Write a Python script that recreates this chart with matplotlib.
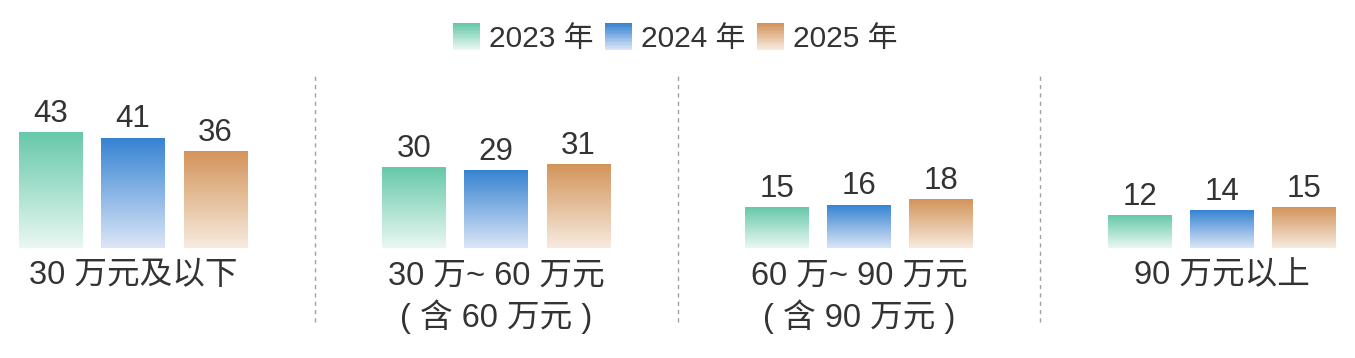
import numpy as np
import matplotlib.pyplot as plt
from matplotlib.patches import Rectangle
from matplotlib.legend_handler import HandlerBase
from matplotlib.colors import LinearSegmentedColormap

plt.rcParams['font.family'] = ['Liberation Sans', 'Noto Sans CJK SC']

categories = ["30 万元及以下", "30 万~ 60 万元\n( 含 60 万元 )",
              "60 万~ 90 万元\n( 含 90 万元 )", "90 万元以上"]
years = ["2023 年", "2024 年", "2025 年"]
v2023 = [43, 30, 15, 12]
v2024 = [41, 29, 16, 14]
v2025 = [36, 31, 18, 15]
series = [v2023, v2024, v2025]

# top colour, bottom colour for each series
grad_colors = [("#66C8AA", "#EAF8F2"), ("#3683D2", "#DCE6F7"), ("#D3945A", "#F7EBDF")]
TEXT = "#333333"

GROUP_STEP = 4.42
BAR_W = 0.77


def gradient_cmap(top, bottom):
    return LinearSegmentedColormap.from_list("g", [bottom, top])


class GradientHandler(HandlerBase):
    def __init__(self, top, bottom):
        super().__init__()
        self.top = top
        self.bottom = bottom

    def create_artists(self, legend, orig_handle, xdescent, ydescent,
                       width, height, fontsize, trans):
        cmap = gradient_cmap(self.top, self.bottom)
        n = 20
        side = height * 1.3
        y0 = -ydescent + (height - side) / 2
        x0 = -xdescent + (width - side)
        arts = []
        for k in range(n):
            r = Rectangle((x0, y0 + side * k / n), side, side / n + 0.3,
                          facecolor=cmap(k / (n - 1)), edgecolor="none",
                          transform=trans)
            arts.append(r)
        return arts


fig = plt.figure(figsize=(13.55, 3.58), dpi=100)
ax = fig.add_axes([0, 0, 1, 1])
ax.set_xlim(-1.62, 3 * GROUP_STEP + 1.62)
ax.set_ylim(-41, 92.5)
ax.axis("off")

for g, cat in enumerate(categories):
    center = g * GROUP_STEP
    for s, vals in enumerate(series):
        x = center + (s - 1)
        v = vals[g]
        top, bottom = grad_colors[s]
        grad = np.linspace(1, 0, 256).reshape(-1, 1)
        ax.imshow(grad, cmap=gradient_cmap(top, bottom), aspect="auto",
                  extent=(x - BAR_W / 2, x + BAR_W / 2, 0, v), zorder=2)
        ax.text(x, v + 1.4, str(v), ha="center", va="bottom",
                fontsize=22.5, color=TEXT)
    ax.text(center, -4.5, cat, ha="center", va="top", fontsize=23.5,
            color=TEXT, linespacing=1.3)

for g in range(len(categories) - 1):
    xs = (g + 0.5) * GROUP_STEP
    ax.vlines(xs, -27.6, 65.3, colors="#A0A0A0", linestyles=(0, (3, 3)),
              linewidth=1)

handles = [Rectangle((0, 0), 1, 1) for _ in years]
leg = ax.legend(handles, years, loc="upper center", bbox_to_anchor=(0.5, 1.005),
                ncol=3, frameon=False, fontsize=21.5, handlelength=0.75,
                handletextpad=0.3, columnspacing=0.55,
                handler_map={h: GradientHandler(*c) for h, c in zip(handles, grad_colors)})
for t in leg.get_texts():
    t.set_color(TEXT)

fig.savefig("out.png", dpi=100)
